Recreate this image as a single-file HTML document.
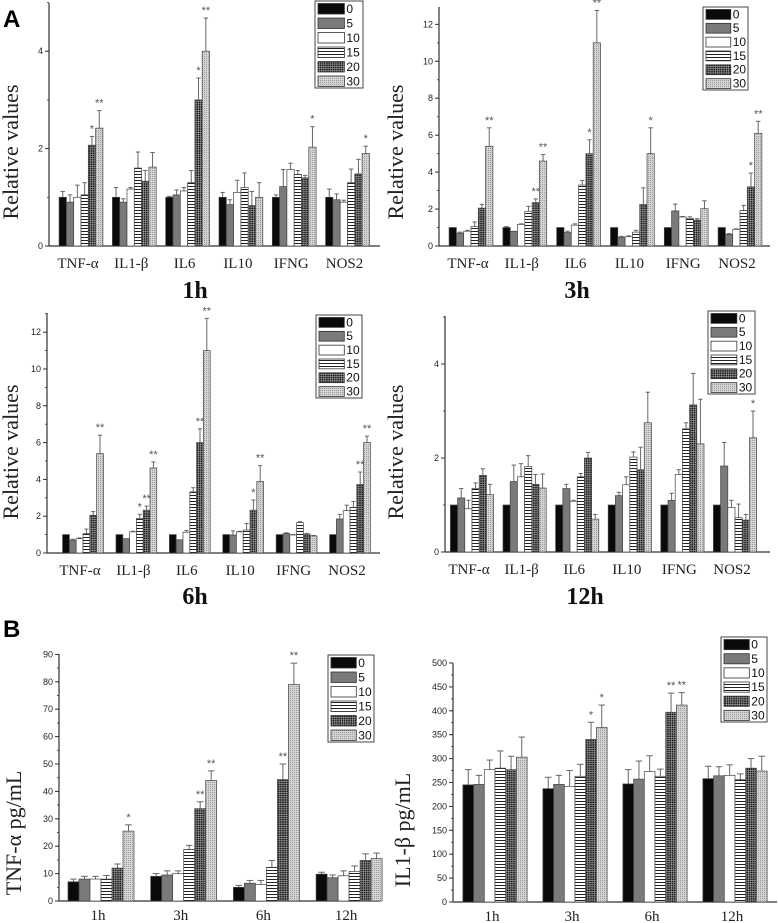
<!DOCTYPE html>
<html><head><meta charset="utf-8">
<style>
html,body{margin:0;padding:0;background:#fff;}
svg{display:block;}
.tk{font-family:"Liberation Sans",Arial,sans-serif;font-size:9px;fill:#222;}
.cat{font-family:"Liberation Serif",serif;font-size:15px;fill:#222;}
.ttl{font-family:"Liberation Serif",serif;font-size:24px;font-weight:bold;fill:#111;}
.yl{font-family:"Liberation Serif",serif;font-size:22px;fill:#222;}
.lg{font-family:"Liberation Sans",Arial,sans-serif;font-size:12px;fill:#111;}
.st{font-family:"Liberation Sans",Arial,sans-serif;font-size:11px;fill:#555;}
.pl{font-family:"Liberation Sans",Arial,sans-serif;font-size:24px;font-weight:bold;fill:#000;}
</style></head>
<body>
<svg id="fig" width="778" height="923" viewBox="0 0 778 923" xmlns="http://www.w3.org/2000/svg">
<defs>
<pattern id="p15" width="4" height="3" patternUnits="userSpaceOnUse"><rect width="4" height="3" fill="#fff"/><rect y="0" width="4" height="1" fill="#222"/></pattern>
<pattern id="p20" width="2.2" height="2.2" patternUnits="userSpaceOnUse"><rect width="2.2" height="2.2" fill="#111"/><rect width="0.6" height="2.2" fill="#aaa"/><rect width="2.2" height="0.6" fill="#aaa"/></pattern>
<pattern id="p30" width="2" height="2" patternUnits="userSpaceOnUse"><rect width="2" height="2" fill="#d4d4d4"/><rect width="1" height="1" fill="#999"/></pattern>
</defs>
<text class="pl" x="3" y="27">A</text>
<text class="pl" x="3" y="637">B</text>
</svg>
<script>
const geneCats = ["TNF-α","IL1-β","IL6","IL10","IFNG","NOS2"];
const timeCats = ["1h","3h","6h","12h"];
const doses = ["0","5","10","15","20","30"];

const vals1h = [[1.0,0.9,1.0,1.05,2.07,2.42],[1.0,0.9,1.17,1.6,1.33,1.62],[1.0,1.05,1.13,1.3,3.0,4.0],[1.0,0.85,1.1,1.2,0.83,1.0],[1.0,1.22,1.57,1.47,1.4,2.03],[1.0,0.95,0.9,1.3,1.48,1.9]];
const errs1h = [[1.12,1.05,1.25,1.3,2.25,2.78],[1.2,0.97,1.2,1.93,1.55,1.92],[1.02,1.15,1.2,1.55,3.45,4.68],[1.1,0.95,1.35,1.5,1.12,1.3],[1.05,1.57,1.7,1.55,1.45,2.45],[1.17,1.07,0.94,1.58,1.78,2.05]];
const stars1h = [["","","","","*","**"],["","","","","",""],["","","","","*","**"],["","","","","",""],["","","","","","*"],["","","","","","*"]];

const vals3h = [[1,0.7,0.8,1.05,2.05,5.4],[1,0.8,1.17,1.88,2.35,4.6],[1,0.73,1.13,3.3,5.0,11.0],[1,0.48,0.5,0.75,2.25,5.0],[1,1.9,1.57,1.5,1.4,2.02],[1,0.63,0.9,1.92,3.2,6.1]];
const errs3h = [[1,0.75,0.85,1.3,2.25,6.4],[1.05,0.8,1.2,2.15,2.55,4.95],[1,0.8,1.2,3.55,5.75,12.75],[1,0.52,0.55,0.85,3.15,6.4],[1,2.27,1.6,1.58,1.48,2.45],[1,0.68,0.93,2.2,3.95,6.75]];
const stars3h = [["","","","","","**"],["","","","","**","**"],["","","","","*","**"],["","","","","","*"],["","","","","",""],["","","","","*","**"]];

const vals6h = [[1,0.7,0.78,1.05,2.05,5.4],[1,0.78,1.15,1.88,2.33,4.62],[1,0.72,1.13,3.32,6.0,11.0],[1,0.98,1.15,1.25,2.33,3.88],[1,1.06,0.98,1.65,1.03,0.93],[1,1.85,2.3,2.48,3.72,6.0]];
const errs6h = [[1,0.75,0.82,1.3,2.25,6.4],[1,0.78,1.18,2.1,2.55,4.95],[1,0.72,1.22,3.55,6.75,12.75],[1,1.2,1.18,1.6,2.88,4.75],[1,1.1,1.0,1.7,1.06,0.95],[1,2.1,2.6,2.8,4.4,6.35]];
const stars6h = [["","","","","","**"],["","","","*","**","**"],["","","","","**","**"],["","","","","*","**"],["","","","","",""],["","","","","**","**"]];

const vals12h = [[1,1.15,0.92,1.35,1.63,1.22],[1,1.5,1.6,1.82,1.44,1.36],[1,1.35,1.08,1.6,2.0,0.7],[1,1.2,1.43,2.02,1.75,2.75],[1,1.1,1.65,2.62,3.13,2.3],[1,1.83,0.95,0.73,0.68,2.43]];
const errs12h = [[1,1.35,1.1,1.47,1.77,1.44],[1,1.85,1.88,2.05,1.65,1.66],[1,1.44,1.1,1.67,2.12,0.8],[1,1.27,1.6,2.13,2.23,3.4],[1,1.25,1.75,2.75,3.8,3.25],[1,2.33,1.1,1.02,0.8,3.0]];
const stars12h = [["","","","","",""],["","","","","",""],["","","","","",""],["","","","","",""],["","","","","",""],["","","","","","*"]];

const valsTnf = [[7,8,8,8,12,25.5],[9,9.5,10,18.8,33.7,44],[5,6.5,6,12.3,44.3,79],[9.8,8.5,9.2,10.8,14.8,15.5]];
const errsTnf = [[8,9,9,9.3,13.5,27.8],[10,11,11,20.3,36.2,47.5],[5.7,7.5,7.5,14.8,50,86.8],[10.5,9.5,11,12.8,17.2,17.5]];
const starsTnf = [["","","","","","*"],["","","","","**","**"],["","","","","**","**"],["","","","","",""]];

const valsIl1 = [[245,246,277,280,277,303],[237,246,242,263,340,365],[247,257,273,263,397,412],[258,264,265,256,280,274]];
const errsIl1 = [[277,265,297,316,305,345],[261,265,275,288,376,412],[277,295,306,278,437,438],[284,283,287,268,300,305]];
const starsIl1 = [["","","","","",""],["","","","","*","*"],["","","","","**","**"],["","","","","",""]];

const ticks1h = [0,2,4];
const ticks3h = [0,2,4,6,8,10,12];
const ticks6h = [0,2,4,6,8,10,12];
const ticks12h = [0,2,4];
const ticksTnf = [0,10,20,30,40,50,60,70,80,90];
const ticksIl1 = [0,50,100,150,200,250,300,350,400,450,500];

const fills = ["#0a0a0a","#7a7a7a","#ffffff","url(#p15)","url(#p20)","url(#p30)"];
const NS = "http://www.w3.org/2000/svg";
const svg = document.getElementById("fig");
function mk(tag, attrs, parent){const e=document.createElementNS(NS,tag);for(const k in attrs)e.setAttribute(k,attrs[k]);(parent||svg).appendChild(e);return e;}

function panel(p){
  const g = mk("g",{});
  
  
  const y = v => p.base - (v - 0) * p.unit;
  const x = i => p.x0 + i * p.step;
  const ya = mk("line",{x1:p.ax,y1:p.base,x2:p.ax,y2:p.top,stroke:"#333","stroke-width":1.2},g);
  
  
  const xa = mk("line",{x1:p.ax,y1:p.base,x2:p.right,y2:p.base,stroke:"#333","stroke-width":1.2},g);
  
  
  for(let v=0; y(v) >= p.top-0.5; v += p.minor){
    mk("line",{x1:p.ax-2,y1:y(v),x2:p.ax,y2:y(v),stroke:"#333","stroke-width":0.8},g);
  }
  p.ticks.forEach(t=>{
    mk("line",{x1:p.ax-4,y1:y(t),x2:p.ax,y2:y(t),stroke:"#333","stroke-width":1},g);
    const tx = mk("text",{x:p.ax-6,y:y(t)+3,"text-anchor":"end",class:"tk"},g);
    tx.textContent = t;
    
    
  });
  p.vals.forEach((grp,i)=>{
    const cx = x(i);
    grp.forEach((v,j)=>{
      const bx = cx + (j-3)*p.bw;
      const top = y(v);
      const e = p.errs[i][j];
      if(e > v){
        const bm = bx + p.bw/2;
        mk("line",{x1:bm,y1:top,x2:bm,y2:y(e),stroke:"#666","stroke-width":1},g);
        mk("line",{x1:bm-p.bw*0.3,y1:y(e),x2:bm+p.bw*0.3,y2:y(e),stroke:"#666","stroke-width":1},g);
      }
      const r = mk("rect",{x:bx,y:top,width:p.bw,height:p.base-top,fill:fills[j],stroke:"#444","stroke-width":0.7},g);
      
      
      const s = p.stars[i][j];
      if(s){
        const st = mk("text",{x:bx+p.bw/2,y:Math.min(y(e),top)-4,"text-anchor":"middle",class:"st"},g);
        st.textContent = s;
        
        
      }
    });
    const cl = mk("text",{x:cx-3,y:p.base+p.catDy,"text-anchor":"middle",class:"cat"},g);
    cl.textContent = p.cats[i];
    
    
  });
  const yl = mk("text",{x:p.ylx,y:p.yly,"text-anchor":"middle",class:"yl",transform:"rotate(-90 "+p.ylx+" "+p.yly+")"},g);
  yl.textContent = p.ylabel;
  
  
  if(p.title){
    const tt = mk("text",{x:p.tx,y:p.ty,"text-anchor":"middle",class:"ttl"},g);
    tt.textContent = p.title;
    
    
  }
  const lg = mk("g",{},g);
  
  
  mk("rect",{x:p.lx,y:p.ly,width:p.lw,height:p.lh,fill:"#fff",stroke:"#444","stroke-width":1},lg);
  const rh = p.lh/6;
  doses.forEach((d,j)=>{
    const ry = p.ly + j*rh;
    const sw = mk("rect",{x:p.lx+3,y:ry+2.5,width:p.lw*0.55,height:rh-4,fill:fills[j],stroke:"#333","stroke-width":0.8},lg);
    
    
    const lt = mk("text",{x:p.lx+p.lw*0.55+5,y:ry+rh-2.5,class:"lg"},lg);
    lt.textContent = d;
    
    
  });
}

panel({name:"chart-1h",cats:geneCats,vals:vals1h,errs:errs1h,stars:stars1h,ticks:ticks1h,minor:1,ax:49,base:246,unit:48.7,top:3,right:380,x0:81,step:53.3,bw:7.3,catDy:22,ylabel:"Relative values",ylx:18,yly:152,title:"1h",tx:195,ty:298,lx:315,ly:1,lw:48,lh:87});
panel({name:"chart-3h",cats:geneCats,vals:vals3h,errs:errs3h,stars:stars3h,ticks:ticks3h,minor:1,ax:439,base:246,unit:18.47,top:7,right:770,x0:471,step:53.8,bw:7.3,catDy:22,ylabel:"Relative values",ylx:403,yly:152,title:"3h",tx:577,ty:298,lx:703,ly:7,lw:45,lh:83});
panel({name:"chart-6h",cats:geneCats,vals:vals6h,errs:errs6h,stars:stars6h,ticks:ticks6h,minor:1,ax:47,base:553,unit:18.4,top:313,right:380,x0:83,step:53.4,bw:6.8,catDy:22,ylabel:"Relative values",ylx:18,yly:452,title:"6h",tx:195,ty:604,lx:316,ly:315,lw:46,lh:83});
panel({name:"chart-12h",cats:geneCats,vals:vals12h,errs:errs12h,stars:stars12h,ticks:ticks12h,minor:1,ax:445,base:552,unit:47,top:316,right:770,x0:472,step:52.6,bw:7.2,catDy:22,ylabel:"Relative values",ylx:403,yly:452,title:"12h",tx:585,ty:604,lx:708,ly:311,lw:47,lh:83});
panel({name:"chart-tnf-elisa",cats:timeCats,vals:valsTnf,errs:errsTnf,stars:starsTnf,ticks:ticksTnf,minor:5,ax:59,base:901,unit:2.74,top:654,right:380,x0:101,step:82.7,bw:11,catDy:19,ylabel:"TNF-α pg/mL",ylx:21,yly:833,title:"",lx:328,ly:655,lw:46,lh:87});
panel({name:"chart-il1b-elisa",cats:timeCats,vals:valsIl1,errs:errsIl1,stars:starsIl1,ticks:ticksIl1,minor:25,ax:453,base:902,unit:0.478,top:663,right:777,x0:495,step:80,bw:10.7,catDy:19,ylabel:"IL1-β pg/mL",ylx:410,yly:830,title:"",lx:721,ly:637,lw:46,lh:85});
</script>
</body></html>
